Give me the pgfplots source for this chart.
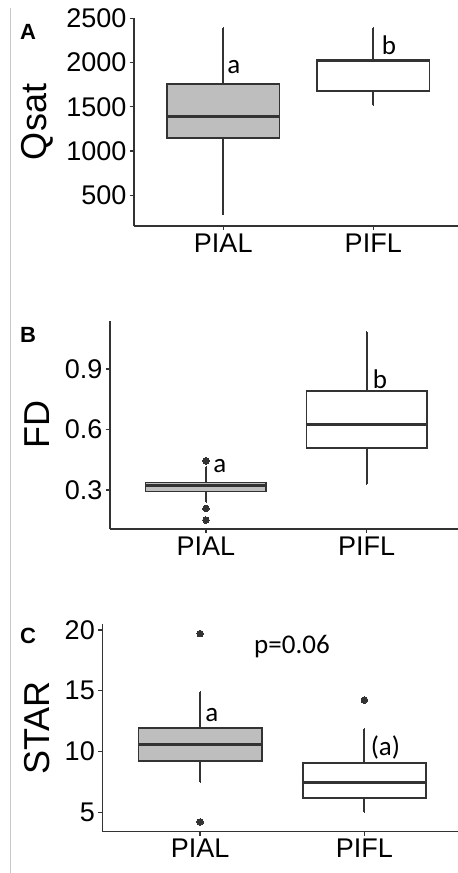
\documentclass[border=0pt]{standalone}
\usepackage{fontspec}
\setmainfont{Liberation Sans}
\newfontfamily\calfont{Carlito}
\usepackage{pgfplots}
\pgfplotsset{compat=1.18}
\usepgfplotslibrary{statistics}

\definecolor{edge}{HTML}{333333}
\definecolor{boxgray}{HTML}{BEBEBE}
\definecolor{rule}{HTML}{C8C8C8}

\pgfplotsset{
  panel/.style={
    scale only axis,
    anchor=south west,
    axis x line*=bottom, axis y line*=left,
    axis line style={edge, line width=1.4bp},
    every tick/.style={edge, line width=1.4bp},
    tick align=outside,
    major tick length=4bp,
    xtick={1,2}, xticklabels={PIAL,PIFL},
    tick label style={font=\fontsize{27bp}{30bp}\selectfont, text=black},
    /pgf/number format/assume math mode=true,
    /pgf/number format/1000 sep={},
    ylabel style={font=\fontsize{36bp}{40bp}\selectfont, anchor=center},
    boxplot/draw direction=y,
    clip=false,
  },
  bx/.style={draw=edge, line width=1.6bp, mark=*, mark size=3.3bp,
    mark options={fill=edge, draw=edge, line width=0pt},
    boxplot/box extend=0.75,
    boxplot/whisker extend=0.004,
    boxplot/every box/.style={draw=edge, line width=1.6bp},
    boxplot/every whisker/.style={draw=edge, line width=1.8bp},
    boxplot/every median/.style={draw=edge, line width=3bp}},
}
\tikzset{
  note/.style={font=\calfont\fontsize{27bp}{30bp}\selectfont, anchor=center},
  tag/.style={font=\bfseries\fontsize{22bp}{24bp}\selectfont, anchor=center},
}

\begin{document}
\begin{tikzpicture}
\useasboundingbox (0,0) rectangle (458bp,873bp);
\draw[rule, line width=1.5bp] (10.5bp,0) -- (10.5bp,865bp);

% A: Qsat
\begin{axis}[panel, at={(134bp,647bp)}, width=324bp, height=208bp,
  xmin=0.405, xmax=2.565, ymin=153, ymax=2503,
  ytick={500,1000,1500,2000,2500},
  ylabel={Qsat}, ylabel style={at={(axis description cs:-0.299,0.5)}}]
\addplot[bx, fill=boxgray, boxplot prepared={draw position=1,
  lower whisker=282, lower quartile=1150, median=1395,
  upper quartile=1757, upper whisker=2394}] coordinates {};
\addplot[bx, fill=white, boxplot prepared={draw position=2,
  lower whisker=1516, lower quartile=1678, median=2027,
  upper quartile=2027, upper whisker=2394}] coordinates {};
\node[note] at (axis cs:1.071,1951) {a};
\node[note] at (axis cs:2.105,2200) {b};
\end{axis}

% B: FD
\begin{axis}[panel, at={(110bp,344bp)}, width=348bp, height=208bp,
  xmin=0.403, xmax=2.568, ymin=0.107, ymax=1.138,
  ytick={0.3,0.6,0.9},
  ylabel={FD}, ylabel style={at={(axis description cs:-0.21,0.5)}}]
\addplot[bx, fill=boxgray, boxplot prepared={draw position=1,
  lower whisker=0.242, lower quartile=0.292, median=0.323,
  upper quartile=0.338, upper whisker=0.415}]
  coordinates {(1,0.445) (1,0.209) (1,0.151)};
\addplot[bx, fill=white, boxplot prepared={draw position=2,
  lower whisker=0.328, lower quartile=0.507, median=0.627,
  upper quartile=0.791, upper whisker=1.085}] coordinates {};
\node[note] at (axis cs:1.087,0.42) {a};
\node[note] at (axis cs:2.083,0.85) {b};
\end{axis}

% C: STAR
\begin{axis}[panel, at={(102.3bp,41.3bp)}, width=355.7bp, height=207.4bp,
  xmin=0.404, xmax=2.57, ymin=3.4, ymax=20.47,
  ytick={5,10,15,20},
  ylabel={STAR}, ylabel style={at={(axis description cs:-0.184,0.5)}}]
\addplot[bx, fill=boxgray, boxplot prepared={draw position=1,
  lower whisker=7.5, lower quartile=9.23, median=10.54,
  upper quartile=11.94, upper whisker=14.9}]
  coordinates {(1,19.7) (1,4.2)};
\addplot[bx, fill=white, boxplot prepared={draw position=2,
  lower whisker=5.0, lower quartile=6.18, median=7.45,
  upper quartile=9.06, upper whisker=11.84}]
  coordinates {(2,14.24)};
\node[note] at (axis cs:1.071,12.99) {a};
\node[note] at (axis cs:2.128,10.33) {(a)};
\node[note] at (axis cs:1.559,18.63) {p=0.06};
\end{axis}

\node[tag] at (28bp,841bp) {A};
\node[tag] at (28bp,538.5bp) {B};
\node[tag] at (28bp,237.2bp) {C};
\end{tikzpicture}
\end{document}
